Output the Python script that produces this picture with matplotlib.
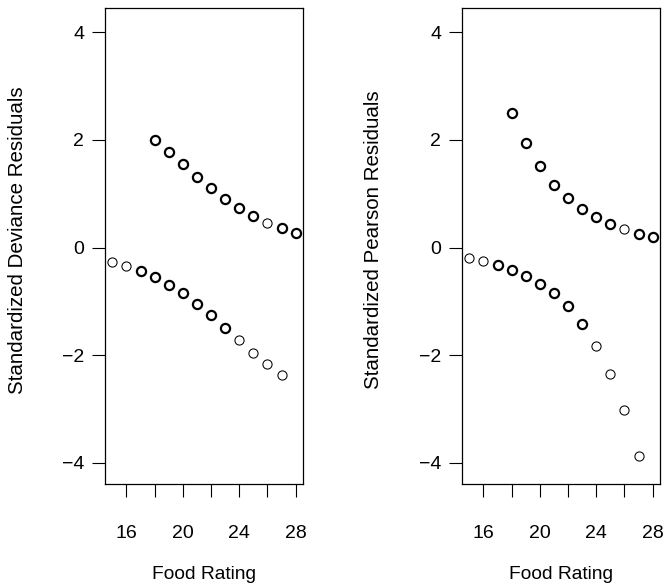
import matplotlib
matplotlib.use("Agg")
from matplotlib import pyplot as plt
import numpy as np

plt.rcParams["font.family"] = ["Liberation Sans", "DejaVu Sans"]

# food rating values for the two branches
food_upper = [18, 19, 20, 21, 22, 23, 24, 25, 26, 27, 28]
food_lower = [15, 16, 17, 18, 19, 20, 21, 22, 23, 24, 25, 26, 27]

# standardized deviance residuals
dev_upper = [2.00, 1.77, 1.55, 1.32, 1.11, 0.90, 0.74, 0.58, 0.46, 0.37, 0.28]
dev_lower = [-0.27, -0.34, -0.43, -0.54, -0.69, -0.85, -1.04, -1.26, -1.49,
             -1.71, -1.95, -2.16, -2.37]

# standardized pearson residuals
pear_upper = [2.50, 1.94, 1.51, 1.17, 0.92, 0.71, 0.56, 0.43, 0.34, 0.26, 0.20]
pear_lower = [-0.19, -0.25, -0.32, -0.41, -0.52, -0.67, -0.85, -1.09, -1.42,
              -1.82, -2.34, -3.01, -3.87]

# number of overplotted observations at each point
n_upper = [2, 2, 2, 2, 2, 2, 2, 2, 1, 2, 2]
n_lower = [1, 1, 2, 2, 2, 2, 2, 2, 2, 1, 1, 1, 1]

x_ticks = [16, 18, 20, 22, 24, 26, 28]
x_ticklabels = ["16", "", "20", "", "24", "", "28"]
y_ticks = [-4, -2, 0, 2, 4]
y_ticklabels = ["\u22124", "\u22122", "0", "2", "4"]


def tegn_punkter(ax, x, y, n):
    for xi, yi, ni in zip(x, y, n):
        ax.plot(xi, yi, "o", ms=6.6, mfc="none", mec="black",
                mew=0.75 if ni == 1 else 1.6)


def sett_opp(ax, ylabel):
    ax.set_xlim(14.48, 28.52)
    ax.set_ylim(-4.39, 4.45)
    ax.set_xticks(x_ticks)
    ax.set_xticklabels(x_ticklabels)
    ax.set_yticks(y_ticks)
    ax.set_yticklabels(y_ticklabels)
    ax.tick_params(axis="both", length=9.5, width=0.8, labelsize=14)
    ax.tick_params(axis="x", pad=20)
    ax.tick_params(axis="y", pad=5.5)
    for spine in ax.spines.values():
        spine.set_linewidth(0.9)
    ax.set_xlabel("Food Rating", fontsize=13.8)
    ax.xaxis.set_label_coords(0.5, -0.172)
    ax.set_ylabel(ylabel, fontsize=14.75)


fig = plt.figure(figsize=(6.65, 5.87), dpi=100)
ax1 = fig.add_axes([0.1579, 0.1755, 0.2977, 0.8109])
ax2 = fig.add_axes([0.6947, 0.1755, 0.2977, 0.8109])

tegn_punkter(ax1, food_upper, dev_upper, n_upper)
tegn_punkter(ax1, food_lower, dev_lower, n_lower)
sett_opp(ax1, "Standardized Deviance Residuals")
ax1.yaxis.set_label_coords(-0.392, 0.513)

tegn_punkter(ax2, food_upper, pear_upper, n_upper)
tegn_punkter(ax2, food_lower, pear_lower, n_lower)
sett_opp(ax2, "Standardized Pearson Residuals")
ax2.yaxis.set_label_coords(-0.397, 0.513)

fig.savefig("out.png", dpi=100)
